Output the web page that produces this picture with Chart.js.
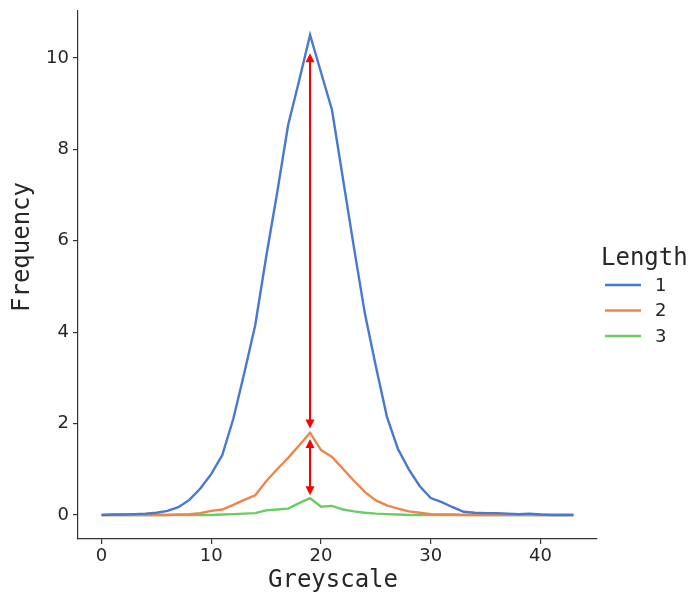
<!DOCTYPE html>
<html>
<head>
<meta charset="utf-8">
<script src="https://cdn.jsdelivr.net/npm/chart.js@4/dist/chart.umd.min.js"></script>
<style>
  html, body { margin: 0; padding: 0; background: #fff; }
  #wrap { width: 688px; height: 597px; }
</style>
</head>
<body>
<div id="wrap"><canvas id="chart" width="688" height="597"></canvas></div>
<script>
// greyscale bins
const greyscale = [0,1,2,3,4,5,6,7,8,9,10,11,12,13,14,15,16,17,18,19,20,21,
  22,23,24,25,26,27,28,29,30,31,32,33,34,35,36,37,38,39,40,41,42,43];

// frequency per length
const length1 = [0,0.01,0.01,0.02,0.03,0.05,0.09,0.17,0.33,0.58,0.9,1.31,2.1,3.1,4.15,5.65,
  7.05,8.53,9.5,10.5,9.68,8.86,7.35,5.85,4.4,3.25,2.15,1.45,1.0,0.63,0.37,0.28,0.17,0.07,
  0.05,0.04,0.04,0.03,0.02,0.03,0.01,0,0,0];
const length2 = [0,0,0,0,0,0,0,0.01,0.02,0.04,0.09,0.12,0.22,0.33,0.43,0.74,1.0,1.25,1.52,1.8,
  1.42,1.27,1.01,0.75,0.5,0.32,0.21,0.14,0.08,0.05,0.02,0.01,0.01,0,0,0,0,0,0,0,0,0,0,0];
const length3 = [0,0,0,0,0,0,0,0,0,0,0,0.01,0.02,0.03,0.04,0.1,0.12,0.14,0.26,0.37,0.18,0.2,
  0.12,0.08,0.05,0.03,0.02,0.01,0,0,0,0,0,0,0,0,0,0,0,0,0,0,0,0];

const seriesNames = ["1", "2", "3"];
const xTicks = [0, 10, 20, 30, 40];
const yTicks = [0, 2, 4, 6, 8, 10];

// red double arrows at x = 19
const arrowX = [19, 19];
const arrowFrom = [10.1, 1.66];
const arrowTo = [1.89, 0.43];

const colors = ["#4878d0", "#ee854a", "#6acc64"];
const mono = "'DejaVu Sans Mono', monospace";
const sans = "'DejaVu Sans', sans-serif";

function pts(ys) { return greyscale.map((x, i) => ({ x: x, y: ys[i] })); }

const arrows = {
  id: "arrows",
  afterDatasetsDraw(chart) {
    const { ctx, scales: { x, y } } = chart;
    ctx.save();
    ctx.strokeStyle = "red";
    ctx.fillStyle = "red";
    ctx.lineWidth = 2;
    for (let i = 0; i < arrowX.length; i++) {
      const px = Math.round(x.getPixelForValue(arrowX[i]));
      const y1 = y.getPixelForValue(arrowFrom[i]);
      const y2 = y.getPixelForValue(arrowTo[i]);
      ctx.beginPath();
      ctx.moveTo(px, y1 + 6);
      ctx.lineTo(px, y2 - 6);
      ctx.stroke();
      const head = (tip, dir) => {
        ctx.beginPath();
        ctx.moveTo(px, tip);
        ctx.lineTo(px - 4.5, tip + dir * 9);
        ctx.lineTo(px + 4.5, tip + dir * 9);
        ctx.closePath();
        ctx.fill();
      };
      head(y1, 1);
      head(y2, -1);
    }
    ctx.restore();
  }
};

// axis titles and legend
const labels = {
  id: "labels",
  afterDraw(chart) {
    const ctx = chart.ctx;
    ctx.save();
    ctx.fillStyle = "#262626";
    ctx.font = "24px " + mono;
    ctx.textAlign = "center";
    ctx.textBaseline = "middle";
    ctx.fillText("Greyscale", 333, 581);
    ctx.translate(23, 247);
    ctx.rotate(-Math.PI / 2);
    ctx.fillText("Frequency", 0, 0);
    ctx.restore();

    ctx.save();
    ctx.fillStyle = "#262626";
    ctx.font = "24px " + mono;
    ctx.textBaseline = "alphabetic";
    ctx.fillText("Length", 601, 265);
    ctx.font = "18px " + sans;
    ctx.textBaseline = "middle";
    const rows = [285, 310.5, 336];
    seriesNames.forEach((n, i) => {
      ctx.strokeStyle = colors[i];
      ctx.lineWidth = 2.4;
      ctx.beginPath();
      ctx.moveTo(605, rows[i]);
      ctx.lineTo(641, rows[i]);
      ctx.stroke();
      ctx.fillStyle = "#262626";
      ctx.fillText(n, 655, rows[i] + 1);
    });
    ctx.restore();
  }
};

new Chart(document.getElementById("chart"), {
  type: "line",
  data: {
    datasets: [length1, length2, length3].map((d, i) => ({
      label: seriesNames[i],
      data: pts(d),
      borderColor: colors[i],
      borderWidth: 2.4,
      pointRadius: 0,
      tension: 0,
      fill: false
    }))
  },
  options: {
    responsive: false,
    animation: false,
    layout: { padding: { top: 11, right: 91, left: 0, bottom: 0 } },
    plugins: { legend: { display: false }, tooltip: { enabled: false } },
    scales: {
      x: {
        type: "linear",
        min: -2.15,
        max: 45.15,
        afterBuildTicks: s => { s.ticks = xTicks.map(v => ({ value: v })); },
        afterFit: s => { s.height = 58; s.paddingLeft = 0; s.paddingRight = 0; },
        grid: { drawOnChartArea: false, drawTicks: true, tickLength: 5, color: "#333", lineWidth: 1.2 },
        border: { display: true, color: "#333", width: 1.2 },
        ticks: { color: "#262626", font: { family: sans, size: 18 }, padding: 2, maxRotation: 0 }
      },
      y: {
        type: "linear",
        min: -0.525,
        max: 11.025,
        afterBuildTicks: s => { s.ticks = yTicks.map(v => ({ value: v })); },
        afterFit: s => { s.width = 78; s.paddingTop = 0; s.paddingBottom = 0; },
        grid: { drawOnChartArea: false, drawTicks: true, tickLength: 5, color: "#333", lineWidth: 1.2 },
        border: { display: true, color: "#333", width: 1.2 },
        ticks: { color: "#262626", font: { family: sans, size: 18 }, padding: 4 }
      }
    }
  },
  plugins: [arrows, labels]
});
</script>
</body>
</html>
